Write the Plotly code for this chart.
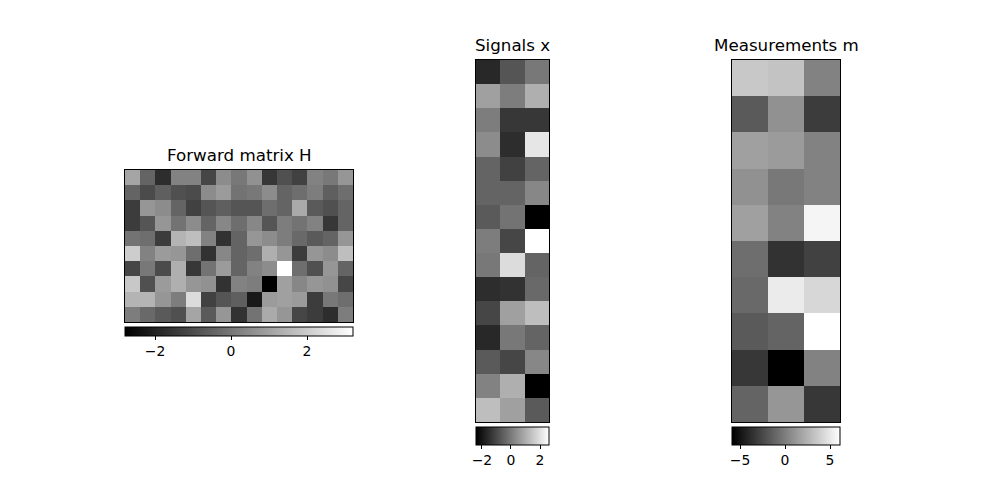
import plotly.graph_objects as go

# Forward matrix H (10 x 15)
H = [
    [1.09, -0.44, -1.73, 0.27, 0.27, -1.14, 0.50, 0.03, 0.62, -1.50, -0.91, -1.26, 0.27, 0.03, 0.74],
    [-0.44, -1.03, -0.55, -0.91, -1.03, 0.50, 0.86, -0.08, 0.03, 0.50, -0.44, -0.20, 0.15, -0.55, -0.20],
    [-1.38, 0.74, 0.50, -0.44, -1.26, -0.79, -0.55, -0.79, -0.79, -0.20, -0.44, 1.21, -0.67, -0.91, -0.44],
    [-1.38, -0.79, 0.74, -0.08, 0.50, -0.44, 0.39, -0.20, 0.39, -0.79, 0.15, -0.08, 0.27, -1.50, -0.44],
    [-0.08, -0.20, -1.38, 1.45, 1.68, 0.27, -1.61, -0.44, 0.74, 0.50, 0.15, -0.32, -0.67, -0.44, 0.74],
    [2.03, 0.27, 0.86, 0.74, -0.20, -1.61, 0.39, -0.44, -0.20, 1.33, 0.74, -1.38, 0.74, 0.50, 1.68],
    [-1.14, 0.03, -1.03, 1.33, -1.50, -0.08, 0.86, -0.44, 0.27, 0.50, 3.21, -0.20, -0.91, 0.74, -0.44],
    [1.92, -0.91, 0.86, 1.33, 0.74, 0.62, -1.61, 0.27, 0.15, -2.79, 0.97, 0.39, 0.74, 0.62, -1.14],
    [1.45, 1.45, 0.74, 0.15, 2.39, -1.26, -0.79, -0.55, -2.20, 0.86, 0.97, 0.86, -1.38, 0.03, -0.20],
    [0.15, -0.32, -0.67, -0.91, 1.09, -0.67, 0.74, -1.61, -0.08, 1.21, 0.74, -1.14, -1.38, -1.73, 0.15],
]

# Signals x (15 x 3)
X = [
    [-1.62, -0.73, -0.04],
    [0.75, 0.06, 1.04],
    [0.06, -1.32, -1.32],
    [0.35, -1.52, 2.13],
    [-0.44, -1.13, -0.44],
    [-0.44, -0.44, 0.25],
    [-0.63, -0.14, -2.41],
    [0.06, -1.03, 2.62],
    [-0.04, 1.93, -0.44],
    [-1.52, -1.42, -0.34],
    [-1.03, 0.75, 1.34],
    [-1.62, -0.04, -0.44],
    [-0.63, -1.03, 0.25],
    [0.15, 1.04, -2.41],
    [1.34, 0.75, -0.63],
]

# Measurements m (10 x 3)
M = [
    [3.52, 3.29, 0.23],
    [-1.65, 0.93, -3.07],
    [1.64, 1.40, 0.23],
    [0.93, -0.24, 0.23],
    [1.64, 0.23, 5.64],
    [-0.71, -3.54, -2.83],
    [-0.95, 5.17, 4.23],
    [-1.65, -1.18, 6.11],
    [-3.30, -5.89, 0.23],
    [-1.18, 1.17, -3.30],
]

titles = ["Forward matrix H", "Signals x", "Measurements m"]
cb_ticks = [[-2, 0, 2], [-2, 0, 2], [-5, 0, 5]]

W, Hpx = 1000, 500
# axes boxes in pixels: (left, top, right, bottom)
boxes = [(125, 170, 353, 322), (476, 60, 549, 422), (732, 60, 840, 422)]
cb_boxes = [(125, 327, 353, 336), (476, 427, 549, 445), (732, 427, 840, 445)]

gray = [[0, "black"], [1, "white"]]
font = "DejaVu Sans"

fig = go.Figure()
datas = [H, X, M]
for i, (z, box, cbb, ticks) in enumerate(zip(datas, boxes, cb_boxes, cb_ticks)):
    l, t, r, b = box
    cl, ct, cr, cbm = cbb
    ax = "" if i == 0 else str(i + 1)
    fig.add_trace(go.Heatmap(
        z=z, colorscale=gray, xaxis="x" + ax, yaxis="y" + ax,
        colorbar=dict(
            orientation="h", lenmode="pixels", len=cr - cl,
            thickness=cbm - ct, thicknessmode="pixels",
            x=(cl + cr) / 2 / W, xanchor="center",
            y=1 - ct / Hpx, yanchor="top",
            xpad=0, ypad=0, outlinewidth=1, outlinecolor="black",
            tickvals=ticks, ticks="outside", ticklen=3.5, tickcolor="black",
            tickfont=dict(family=font, size=13.9, color="black"),
        ),
    ))
    nrows, ncols = len(z), len(z[0])
    fig.layout["xaxis" + ax] = dict(
        domain=[l / W, r / W], range=[-0.5, ncols - 0.5],
        showticklabels=False, ticks="", showgrid=False, zeroline=False,
        showline=True, mirror=True, linecolor="black", linewidth=1,
        anchor="y" + ax,
    )
    fig.layout["yaxis" + ax] = dict(
        domain=[1 - b / Hpx, 1 - t / Hpx], range=[nrows - 0.5, -0.5],
        showticklabels=False, ticks="", showgrid=False, zeroline=False,
        showline=True, mirror=True, linecolor="black", linewidth=1,
        anchor="x" + ax,
    )
    fig.add_annotation(
        text=titles[i], x=(l + r) / 2 / W, y=1 - (t - 3) / Hpx,
        xref="paper", yref="paper", xanchor="center", yanchor="bottom",
        showarrow=False, font=dict(family=font, size=16.7, color="black"),
    )

fig.update_layout(
    width=W, height=Hpx, margin=dict(l=0, r=0, t=0, b=0),
    paper_bgcolor="white", plot_bgcolor="white", showlegend=False,
)
fig.write_html("out.html")
